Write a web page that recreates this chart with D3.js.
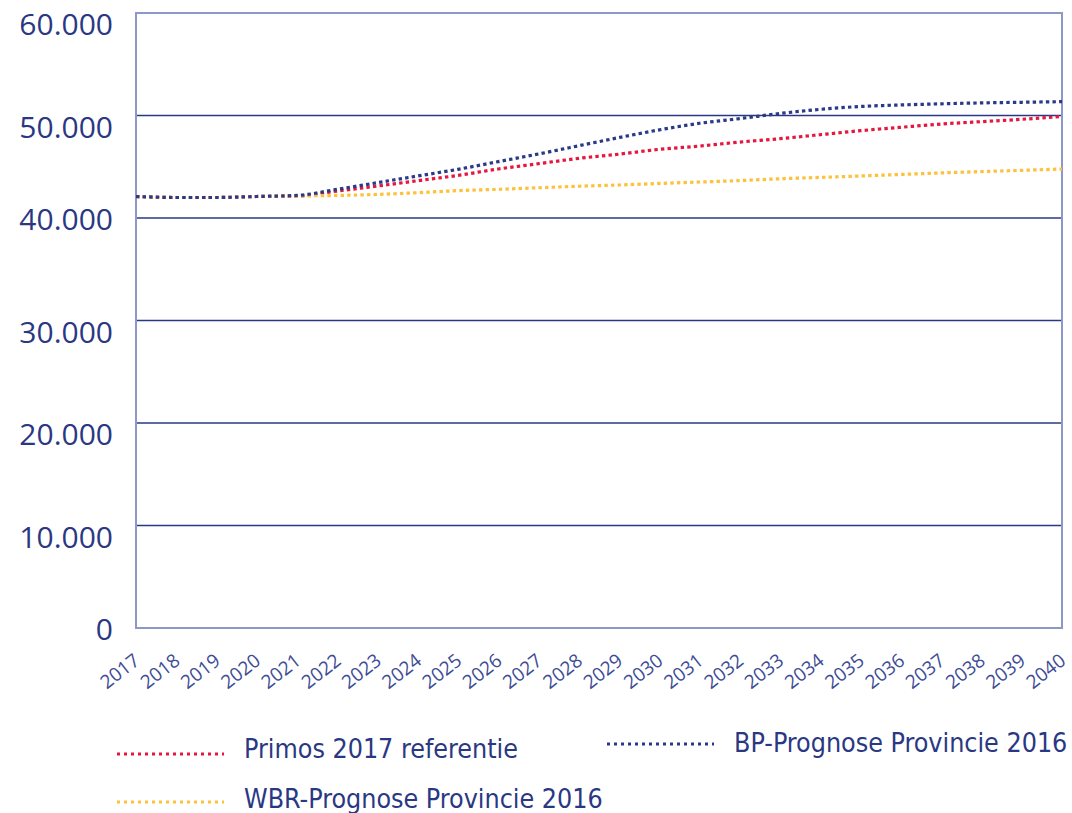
<!DOCTYPE html>
<html>
<head>
<meta charset="utf-8">
<script src="https://cdn.jsdelivr.net/npm/d3@7"></script>
<style>
  html, body { margin: 0; padding: 0; background: #ffffff; }
  svg { display: block; }
</style>
</head>
<body>
<div id="chart"></div>
<script>
// ---- data ----
const years = [2017,2018,2019,2020,2021,2022,2023,2024,2025,2026,2027,2028,2029,2030,2031,2032,2033,2034,2035,2036,2037,2038,2039,2040];
const primos = [42100,42000,42000,42100,42150,42630,43120,43640,44160,44780,45300,45820,46230,46700,47020,47410,47740,48130,48520,48850,49170,49400,49630,49900];
const bp     = [42100,42000,42000,42100,42200,42800,43450,44100,44750,45500,46250,47050,47850,48600,49240,49700,50200,50600,50880,51030,51140,51230,51290,51350];
const wbr    = [42100,42000,42000,42100,42150,42200,42300,42470,42670,42800,42950,43100,43220,43370,43510,43650,43830,43960,44100,44250,44400,44530,44650,44780];
const yTicks = [0,10000,20000,30000,40000,50000,60000];
const seriesNames = ["Primos 2017 referentie","BP-Prognose Provincie 2016","WBR-Prognose Provincie 2016"];

(function () {
const W = 1072, H = 813;
const pL = 136, pR = 1062, pT = 13, pB = 628;
const navy = "#2a3883";
const light = "#8d97c9";
const colors = ["#e5173f", "#2a3a87", "#fcc23c"];

const svg = d3.select("#chart").append("svg").attr("width", W).attr("height", H);

const x = d3.scalePoint().domain(years).range([pL, pR]);
const y = d3.scaleLinear().domain([0, 60000]).range([pB, pT]);

// gridlines (inner)
svg.append("g").selectAll("line")
  .data(yTicks.filter(v => v > 0 && v < 60000))
  .join("line")
  .attr("x1", pL - 1).attr("x2", pR)
  .attr("y1", d => y(d)).attr("y2", d => y(d))
  .attr("stroke", navy).attr("stroke-width", 1.6);

// plot frame
svg.append("rect")
  .attr("x", pL).attr("y", pT)
  .attr("width", pR - pL).attr("height", pB - pT)
  .attr("fill", "none").attr("stroke", light).attr("stroke-width", 2);

// y labels
const fmt = v => v === 0 ? "0" : d3.format(",")(v).replace(/,/g, ".");
svg.append("g").selectAll("text")
  .data(yTicks)
  .join("text")
  .attr("x", 113)
  .attr("y", d => y(d) + ((d === 0 || d === 40000) ? 12 : 22))
  .attr("text-anchor", "end")
  .attr("font-family", "'Open Sans', sans-serif")
  .attr("font-size", 30)
  .attr("fill", navy)
  .text(fmt);

// x labels
svg.append("g").selectAll("text")
  .data(years)
  .join("text")
  .attr("transform", d => `translate(${x(d) + 5},${663}) rotate(-38)`)
  .attr("text-anchor", "end")
  .attr("font-family", "'Open Sans', sans-serif")
  .attr("font-size", 19)
  .attr("fill", "#3d4c95")
  .text(d => d);

// lines
const line = d3.line()
  .x((d, i) => x(years[i]))
  .y(d => y(d))
  .curve(d3.curveMonotoneX);

const allSeries = [primos, wbr, bp];
const allColors = [colors[0], colors[2], colors[1]];
svg.append("g").selectAll("path")
  .data(allSeries)
  .join("path")
  .attr("d", d => line(d))
  .attr("fill", "none")
  .attr("stroke", (d, i) => allColors[i])
  .attr("stroke-width", 3.2)
  .attr("stroke-dasharray", "3.4 3.2");

// legend
const legend = [
  {name: seriesNames[0], color: colors[0], x: 117, ly: 754, ty: 758},
  {name: seriesNames[1], color: colors[1], x: 607, ly: 744, ty: 752},
  {name: seriesNames[2], color: colors[2], x: 117, ly: 802, ty: 808}
];
const lg = svg.append("g").selectAll("g").data(legend).join("g");
lg.append("line")
  .attr("x1", d => d.x).attr("x2", d => d.x + 107)
  .attr("y1", d => d.ly).attr("y2", d => d.ly)
  .attr("stroke", d => d.color).attr("stroke-width", 3)
  .attr("stroke-dasharray", "3 4");
lg.append("text")
  .attr("x", d => d.x + 127).attr("y", d => d.ty)
  .attr("font-family", "'DejaVu Sans Condensed', 'DejaVu Sans', sans-serif")
  .attr("font-stretch", "condensed")
  .attr("font-size", 26.6)
  .attr("fill", navy)
  .text(d => d.name);
})();
</script>
</body>
</html>
